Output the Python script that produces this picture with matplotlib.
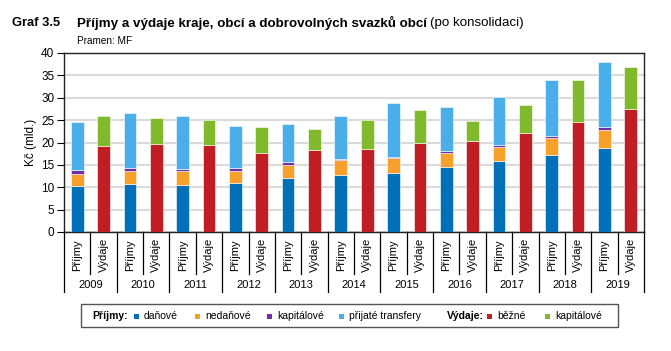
import numpy as np
import matplotlib
matplotlib.use('Agg')
from matplotlib import pyplot as plt
from matplotlib.patches import Rectangle
from matplotlib.transforms import blended_transform_factory

plt.rcParams['font.family'] = ['Liberation Sans', 'DejaVu Sans']

# Data (mld. Kč)
years = ['2009', '2010', '2011', '2012', '2013', '2014', '2015', '2016', '2017', '2018', '2019']
prij_danove = [10.35, 10.7, 10.6, 10.9, 12.15, 12.8, 13.1, 14.6, 15.95, 17.3, 18.7]
prij_nedanove = [2.65, 2.9, 3.0, 2.7, 2.9, 3.3, 3.45, 3.1, 3.05, 3.6, 4.15]
prij_kapitalove = [0.85, 0.8, 0.55, 0.7, 0.5, 0.3, 0.3, 0.4, 0.45, 0.55, 0.55]
prij_transfery = [10.65, 12.3, 11.7, 9.4, 8.65, 9.45, 11.95, 9.9, 10.75, 12.45, 14.65]
vyd_bezne = [19.3, 19.7, 19.45, 17.7, 18.3, 18.6, 19.95, 20.4, 22.2, 24.65, 27.55]
vyd_kapitalove = [6.7, 5.8, 5.65, 5.7, 4.8, 6.5, 7.4, 4.4, 6.25, 9.25, 9.25]

c_danove = '#0070b8'
c_nedanove = '#f7a12b'
c_kapital = '#7030a0'
c_transfery = '#4aaee8'
c_bezne = '#be1e24'
c_vkapital = '#80ba2c'

fig = plt.figure(figsize=(6.71, 3.51), dpi=100)
W, H = 671.0, 351.0
ax = fig.add_axes([64 / W, 1 - 232 / H, (644 - 64) / W, (232 - 53) / H])

n = len(years)
xp = np.arange(n) * 2
xv = xp + 1
bw = 0.48
ek = dict(edgecolor='white', linewidth=0.4, zorder=3)

bottom = np.zeros(n)
for vals, col in [(prij_danove, c_danove), (prij_nedanove, c_nedanove),
                  (prij_kapitalove, c_kapital), (prij_transfery, c_transfery)]:
    ax.bar(xp, vals, bw, bottom=bottom, color=col, **ek)
    bottom += np.array(vals)

bottom = np.zeros(n)
for vals, col in [(vyd_bezne, c_bezne), (vyd_kapitalove, c_vkapital)]:
    ax.bar(xv, vals, bw, bottom=bottom, color=col, **ek)
    bottom += np.array(vals)

ax.set_xlim(-0.5, 2 * n - 0.5)
ax.set_ylim(0, 40)
ax.set_yticks(range(0, 41, 5))
ax.tick_params(axis='y', labelsize=8.5, direction='out', length=5, width=0.8, pad=2)
ax.set_xticks([])
ax.yaxis.grid(True, color='#dadada', linewidth=1.5, zorder=0)
ax.set_axisbelow(True)
for s in ax.spines.values():
    s.set_color('#222222')
    s.set_linewidth(1.0)
ax.set_ylabel('Kč (mld.)', fontsize=8.5, labelpad=3)

# two-level category axis
tr = blended_transform_factory(ax.transData, ax.transAxes)
for i in range(n):
    ax.plot([xp[i] + 0.5] * 2, [0, -0.235], transform=tr, clip_on=False,
            color='black', linewidth=0.9)
    ax.text(xp[i], -0.13, 'Příjmy', rotation=90, ha='center', va='center',
            fontsize=8, transform=tr)
    ax.text(xv[i], -0.13, 'Výdaje', rotation=90, ha='center', va='center',
            fontsize=8, transform=tr)
    ax.text(xp[i] + 0.5, -0.296, years[i], ha='center', va='center',
            fontsize=8, transform=tr)
for i in range(n + 1):
    ax.plot([2 * i - 0.5] * 2, [0, -0.335], transform=tr, clip_on=False,
            color='black', linewidth=0.9)

# title
fig.text(12 / W, 1 - 23 / H, 'Graf 3.5', fontsize=9.3, fontweight='bold', va='center')
t = fig.text(77 / W, 1 - 23 / H, 'Příjmy a výdaje kraje, obcí a dobrovolných svazků obcí',
             fontsize=9.6, fontweight='bold', va='center')
fig.canvas.draw()
bb = t.get_window_extent()
fig.text(bb.x1 / W + 3 / W, 1 - 23 / H, '(po konsolidaci)', fontsize=9.6, va='center')
fig.text(77 / W, 1 - 41 / H, 'Pramen: MF', fontsize=7.2, va='center')

# legend box
fig.patches.append(Rectangle((81 / W, 1 - 327 / H), (618 - 81) / W, (327 - 304) / H,
                             transform=fig.transFigure, facecolor='white',
                             edgecolor='#555555', linewidth=1.0))
ly = 1 - 316 / H
fig.text(92 / W, ly, 'Příjmy:', fontsize=7.5, fontweight='bold', va='center')
fig.text(447 / W, ly, 'Výdaje:', fontsize=7.5, fontweight='bold', va='center')
items = [(134, c_danove, 'daňové'), (195, c_nedanove, 'nedaňové'),
         (267, c_kapital, 'kapitálové'), (339, c_transfery, 'přijaté transfery'),
         (487, c_bezne, 'běžné'), (545, c_vkapital, 'kapitálové')]
for px, col, lab in items:
    fig.patches.append(Rectangle((px / W, ly - 2.5 / H), 5 / W, 5 / H,
                                 transform=fig.transFigure, facecolor=col,
                                 edgecolor='none'))
    fig.text((px + 10) / W, ly, lab, fontsize=7.5, va='center')

fig.savefig('out.png', dpi=100)
